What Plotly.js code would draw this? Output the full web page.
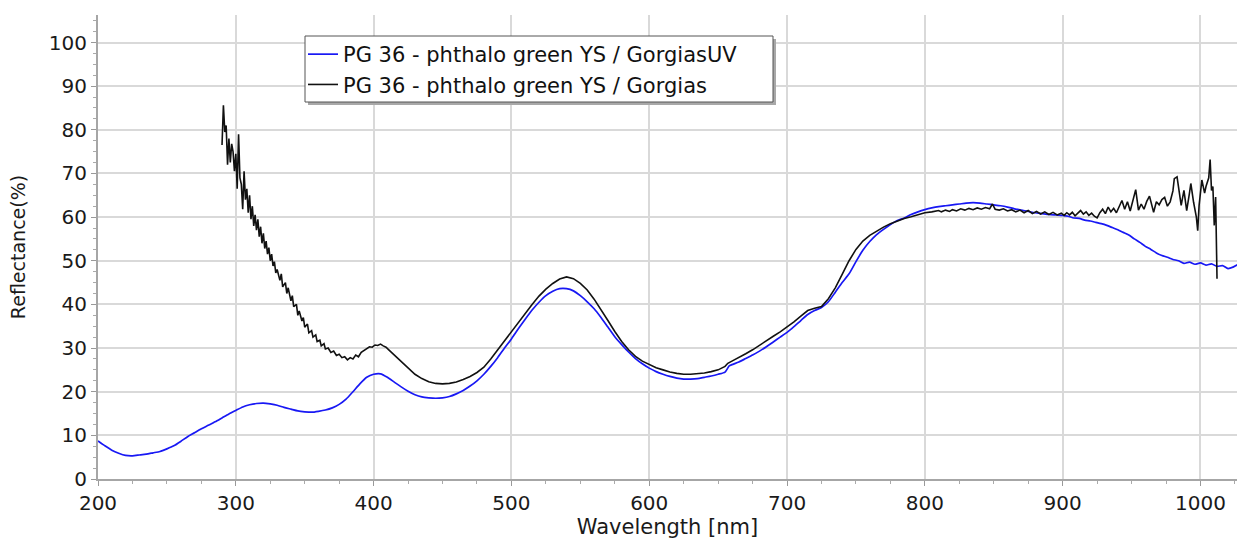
<!DOCTYPE html>
<html>
<head>
<meta charset="utf-8">
<script src="https://cdn.plot.ly/plotly-3.0.1.min.js"></script>
<style>
  html, body { margin: 0; padding: 0; background: #ffffff; }
  #chart { width: 1240px; height: 539px; }
</style>
</head>
<body>
<div id="chart"></div>
<script>
// PG 36 - phthalo green YS: reflectance spectra from two Gorgias probes

const uvWavelength = [
  200, 205, 210, 215, 220, 225, 230, 235, 240, 245, 250, 255, 260, 265, 270, 275, 280, 285, 290, 295,
  300, 305, 310, 315, 320, 325, 330, 335, 340, 345, 350, 355, 360, 365, 370, 375, 380, 385, 390, 395,
  400, 405, 410, 415, 420, 425, 430, 435, 440, 445, 450, 455, 460, 465, 470, 475, 480, 485, 490, 495,
  500, 505, 510, 515, 520, 525, 530, 535, 540, 545, 550, 555, 560, 565, 570, 575, 580, 585, 590, 595,
  600, 605, 610, 615, 620, 625, 630, 635, 640, 645, 650, 655, 658, 660, 665, 670, 675, 680, 685, 690,
  695, 700, 705, 710, 715, 720, 725, 730, 735, 740, 745, 750, 755, 760, 765, 770, 775, 780, 785, 790,
  795, 800, 805, 810, 815, 820, 825, 830, 835, 840, 845, 850, 855, 860, 865, 870, 875, 880, 885, 890,
  895, 900, 904, 908, 912, 916, 920, 924, 928, 932, 936, 940, 944, 948, 952, 956, 960, 964, 968, 972,
  976, 980, 984, 988, 992, 996, 1000, 1004, 1008, 1012, 1016, 1020, 1024, 1028
];
const uvReflectance = [
  8.7, 7.6, 6.6, 5.9, 5.4, 5.3, 5.5, 5.7, 6.0, 6.3, 6.9, 7.6, 8.6, 9.7, 10.6, 11.5, 12.3, 13.1, 14.0, 14.9,
  15.7, 16.5, 17.0, 17.3, 17.4, 17.2, 16.9, 16.4, 16.0, 15.6, 15.4, 15.3, 15.5, 15.8, 16.3, 17.1, 18.3, 20.0, 21.8, 23.3,
  24.0, 24.1, 23.3, 22.2, 21.1, 20.1, 19.3, 18.8, 18.6, 18.5, 18.6, 18.9, 19.5, 20.3, 21.3, 22.5, 24.0, 25.8, 27.8, 30.0,
  32.1, 34.4, 36.6, 38.7, 40.5, 42.0, 43.0, 43.6, 43.6, 43.1, 42.0, 40.6, 39.0, 37.0, 34.8, 32.6, 30.8, 29.1, 27.6, 26.4,
  25.4, 24.6, 24.0, 23.5, 23.1, 22.9, 22.9, 23.0, 23.3, 23.6, 24.0, 24.5, 25.9, 26.2, 26.8, 27.6, 28.4, 29.3, 30.3, 31.4,
  32.5, 33.6, 34.9, 36.3, 37.7, 38.6, 39.3, 40.6, 42.8, 45.0, 47.0, 49.8, 52.4, 54.4, 56.0, 57.2, 58.3, 59.2, 59.8, 60.6,
  61.2, 61.7, 62.1, 62.4, 62.6, 62.8, 63.0, 63.2, 63.3, 63.2, 63.0, 62.8, 62.6, 62.3, 61.9, 61.6, 61.3, 61.0, 60.8, 60.6,
  60.5, 60.4, 60.2, 59.8, 59.7, 59.3, 59.1, 58.8, 58.5, 58.1, 57.6, 57.1, 56.5, 55.9, 55.0, 54.2, 53.3, 52.6, 51.8, 51.2,
  50.8, 50.3, 50.0, 49.4, 49.7, 49.2, 49.5, 49.0, 49.3, 48.7, 48.9, 48.2, 48.6, 49.3
];

const visWavelength = [
  290, 291, 292, 293, 294, 295, 296, 297, 298, 299, 300, 301, 302, 303, 304, 305, 306, 307, 308, 309,
  310, 311, 312, 313, 314, 315, 316, 317, 318, 319, 320, 321, 322, 323, 324, 325, 326, 327, 328, 329,
  330, 332, 333, 334, 336, 337, 338, 340, 341, 342, 344, 345, 346, 348, 349, 350, 352, 353, 355, 356,
  358, 359, 361, 362, 364, 365, 367, 369, 371, 373, 375, 377, 379, 381, 383, 385, 387, 389, 391, 393,
  395, 397, 399, 401, 403, 405, 407, 409, 411, 413, 415, 420, 425, 430, 435, 440, 445, 450, 455, 460,
  465, 470, 475, 480, 485, 490, 495, 500, 505, 510, 515, 520, 525, 530, 535, 540, 545, 550, 555, 560,
  565, 570, 575, 580, 585, 590, 595, 600, 605, 610, 615, 620, 625, 630, 635, 640, 645, 650, 655, 657,
  660, 665, 670, 675, 680, 685, 690, 695, 700, 705, 710, 715, 720, 725, 730, 735, 740, 745, 750, 755,
  760, 765, 770, 775, 780, 785, 790, 795, 800, 805, 810, 812, 815, 818, 820, 823, 826, 829, 832, 835,
  838, 841, 844, 847, 849, 851, 854, 857, 860, 863, 866, 869, 872, 875, 878, 881, 884, 887, 890, 893,
  896, 899, 901, 903, 905, 907, 909, 911, 913, 915, 917, 919, 921, 923, 925, 927, 929, 931, 933, 935,
  937, 939, 941, 943, 945, 947, 949, 951, 953, 955, 957, 959, 961, 963, 965, 966, 968, 970, 972, 974,
  976, 978, 980, 981, 983, 985, 986, 988, 990, 992, 993, 995, 997, 998, 999, 1001, 1003, 1004, 1006, 1007,
  1008, 1009, 1010, 1011, 1012
];
const visReflectance = [
  76.5, 85.6, 79.5, 81.0, 72.0, 78.0, 72.5, 76.8, 75.0, 70.5, 74.5, 66.5, 79.0, 69.0, 67.5, 61.8, 70.5, 64.0, 66.5, 61.0,
  65.0, 59.5, 62.5, 58.0, 60.5, 57.0, 59.5, 55.5, 57.8, 54.0, 56.3, 52.8, 54.5, 51.5, 53.0, 50.0, 51.5, 48.8, 49.8, 47.2,
  48.0, 45.5, 47.0, 44.0, 45.0, 42.5, 43.8, 40.8, 42.0, 39.5, 40.0, 37.5, 38.5, 36.2, 37.0, 34.8, 35.5, 33.5, 34.0, 32.5,
  33.0, 31.5, 31.8, 30.5, 31.0, 29.8, 30.0, 29.0, 29.3, 28.3, 28.6, 27.8, 28.0, 27.3, 27.8, 27.5, 28.4, 28.0, 29.0, 29.5,
  29.8, 30.3, 30.2, 30.7, 30.6, 30.9, 30.5, 30.2, 29.6, 29.0, 28.5, 26.8, 25.3, 24.0, 23.0, 22.3, 21.9, 21.8, 21.9, 22.2,
  22.8, 23.5, 24.4, 25.6, 27.5, 29.6, 31.7, 33.6, 35.8, 38.0, 40.0, 41.9, 43.5, 44.8, 45.8, 46.3, 45.9, 44.8, 43.3, 41.2,
  38.9, 36.3, 33.8, 31.5, 29.6, 28.1, 27.0, 26.2, 25.5, 25.0, 24.5, 24.2, 24.0, 24.0, 24.1, 24.3, 24.6, 25.0, 25.8, 26.5,
  27.0, 27.8, 28.7, 29.6, 30.7, 31.7, 32.7, 33.7, 34.8, 36.0, 37.3, 38.6, 39.1, 39.5, 41.3, 43.8, 46.9, 50.0, 52.6, 54.5,
  55.8, 56.8, 57.7, 58.5, 59.1, 59.7, 60.1, 60.6, 61.0, 61.2, 61.5, 61.2, 61.6, 61.3, 61.7, 61.4, 61.9, 61.6, 62.0, 61.7,
  62.1, 61.8, 62.2, 61.9, 63.0, 61.8, 61.6, 61.9, 61.4, 61.7, 61.2, 61.6, 61.0, 61.5, 60.8, 61.3, 60.7, 61.2, 60.6, 61.1,
  60.5, 60.9, 60.4, 61.0, 60.5, 61.1, 60.3, 60.9, 61.5, 60.7, 61.2, 60.4, 60.9, 60.2, 59.8, 61.0, 61.8, 60.8, 62.3, 61.2,
  62.0, 61.0, 62.6, 63.8, 61.8, 63.5, 61.4, 64.0, 66.3, 61.6, 63.0, 61.8, 63.6, 64.8, 62.0, 61.1, 63.5, 62.8, 64.0, 64.5,
  62.5, 63.5, 66.0, 68.8, 69.2, 64.5, 62.7, 66.1, 61.5, 65.5, 67.7, 63.4, 60.0, 56.9, 62.7, 68.5, 65.5, 67.0, 69.0, 73.2,
  66.1, 67.0, 58.1, 64.6, 45.9
];

const seriesNames = [
  'PG 36 - phthalo green YS / GorgiasUV',
  'PG 36 - phthalo green YS / Gorgias'
];
const xTickValues = [200, 300, 400, 500, 600, 700, 800, 900, 1000];
const yTickValues = [0, 10, 20, 30, 40, 50, 60, 70, 80, 90, 100];

const FONT = '"DejaVu Sans", Verdana, sans-serif';
const W = 1240, H = 539;
const M = { l: 98, r: 3, t: 15, b: 60 };

const traces = [
  {
    x: uvWavelength, y: uvReflectance, name: seriesNames[0],
    type: 'scatter', mode: 'lines',
    line: { color: '#1818f4', width: 1.7, shape: 'spline', smoothing: 0.6 }
  },
  {
    x: visWavelength, y: visReflectance, name: seriesNames[1],
    type: 'scatter', mode: 'lines',
    line: { color: '#111111', width: 1.6 }
  }
];

// pixel positions converted to paper fractions
const plotW = W - M.l - M.r, plotH = H - M.t - M.b;
const px = v => (v - M.l) / plotW;
const py = v => (H - M.b - v) / plotH;

// legend frame: drop shadow plus white box with a dark border
const legendBox = { left: 305, top: 36, right: 773, bottom: 102 };

const layout = {
  width: W, height: H,
  margin: M,
  paper_bgcolor: '#ffffff',
  plot_bgcolor: '#ffffff',
  font: { family: FONT, size: 19, color: '#1a1a1a' },
  showlegend: true,
  legend: {
    x: px(303), y: py(34), xanchor: 'left', yanchor: 'top',
    bgcolor: 'rgba(0,0,0,0)', borderwidth: 0,
    font: { family: FONT, size: 21, color: '#111111' },
    tracegroupgap: 0
  },
  xaxis: {
    range: [200, 1026.5],
    tickvals: xTickValues,
    ticks: 'outside', ticklen: 5, tickwidth: 1, tickcolor: '#999999',
    minor: { dtick: 25, tick0: 200, ticks: 'outside', ticklen: 3, tickcolor: '#aaaaaa', showgrid: false },
    showline: true, linecolor: '#a6a6a6', linewidth: 2,
    showgrid: true, gridcolor: '#d9d9d9', gridwidth: 2,
    zeroline: false,
    tickfont: { family: FONT, size: 20, color: '#1a1a1a' },
    title: { text: 'Wavelength [nm]', font: { family: FONT, size: 21, color: '#1a1a1a' }, standoff: 4 }
  },
  yaxis: {
    range: [0, 106.3],
    tickvals: yTickValues,
    ticks: 'outside', ticklen: 5, tickwidth: 1, tickcolor: '#999999',
    minor: { dtick: 2.5, tick0: 0, ticks: 'outside', ticklen: 3, tickcolor: '#aaaaaa', showgrid: false },
    showline: true, linecolor: '#a6a6a6', linewidth: 2,
    showgrid: true, gridcolor: '#d9d9d9', gridwidth: 2,
    zeroline: false,
    tickfont: { family: FONT, size: 20, color: '#1a1a1a' },
    title: { text: 'Reflectance(%)', font: { family: FONT, size: 19, color: '#1a1a1a' }, standoff: 18 }
  },
  shapes: [
    {
      type: 'rect', xref: 'paper', yref: 'paper', layer: 'above',
      x0: px(legendBox.left + 3), x1: px(legendBox.right + 3),
      y0: py(legendBox.bottom + 3), y1: py(legendBox.top + 3),
      fillcolor: '#a8a8a8', line: { width: 0 }
    },
    {
      type: 'rect', xref: 'paper', yref: 'paper', layer: 'above',
      x0: px(legendBox.left), x1: px(legendBox.right),
      y0: py(legendBox.bottom), y1: py(legendBox.top),
      fillcolor: '#ffffff', line: { color: '#555555', width: 1 }
    }
  ]
};

Plotly.newPlot('chart', traces, layout, { displayModeBar: false, staticPlot: true });
</script>
</body>
</html>
